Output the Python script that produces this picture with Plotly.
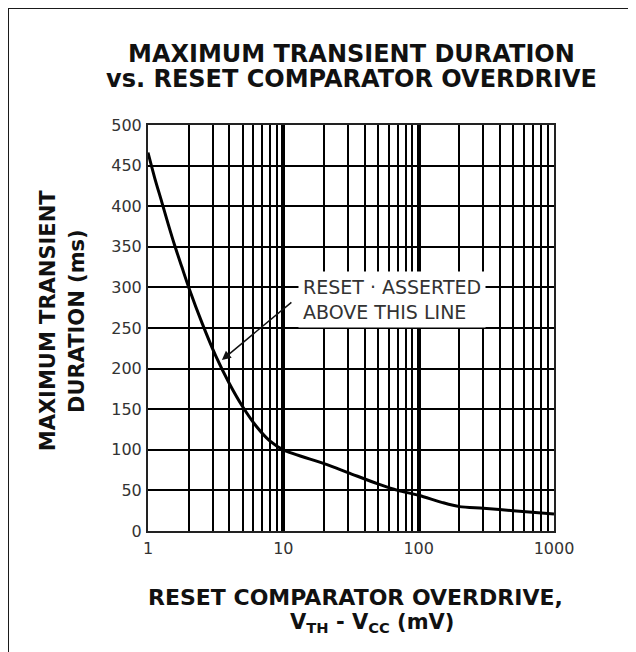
import plotly.graph_objects as go

# Data
overdrive_mv = [1, 1.12, 1.26, 1.41, 1.58, 1.78, 2, 2.51, 3.16, 3.98, 5.01,
                6.31, 7.94, 10, 20, 30, 50, 70, 100, 150, 200, 300, 500, 1000]
duration_ms = [466, 435, 406, 378, 351, 325, 300, 256, 216, 182, 153,
               129, 111, 100, 83, 72, 58, 50, 44, 35, 30, 28, 25, 21]

x_major_ticks = [1, 10, 100, 1000]
x_major_labels = ["1", "10", "100", "1000"]
x_minor_ticks = [2, 3, 4, 5, 6, 7, 8, 9,
                 20, 30, 40, 50, 60, 70, 80, 90,
                 200, 300, 400, 500, 600, 700, 800, 900]
y_ticks = [0, 50, 100, 150, 200, 250, 300, 350, 400, 450, 500]

FONT = "DejaVu Sans"

fig = go.Figure()
fig.add_trace(go.Scatter(
    x=overdrive_mv, y=duration_ms, mode="lines",
    line=dict(color="black", width=3, shape="spline", smoothing=0.8),
    hoverinfo="skip", showlegend=False,
))

fig.update_layout(
    width=628, height=644,
    margin=dict(l=140, r=82, t=117, b=121),
    paper_bgcolor="white", plot_bgcolor="white",
    showlegend=False,
    font=dict(family=FONT, color="#333333", size=16),
    xaxis=dict(
        type="log", range=[0, 3],
        tickvals=x_major_ticks, ticktext=x_major_labels,
        showgrid=True, gridcolor="black", gridwidth=3.5,
        showline=True, linecolor="#222222", linewidth=2, mirror=True,
        ticks="", ticklabelstandoff=2,
        tickfont=dict(family=FONT, size=16, color="#333333"),
        minor=dict(tickvals=x_minor_ticks, showgrid=True,
                   gridcolor="black", gridwidth=2, ticks=""),
        zeroline=False, fixedrange=True,
    ),
    yaxis=dict(
        range=[0, 500], tickvals=y_ticks,
        showgrid=True, gridcolor="black", gridwidth=2,
        showline=True, linecolor="#222222", linewidth=2, mirror=True,
        ticks="", ticklabelstandoff=1,
        tickfont=dict(family=FONT, size=16, color="#333333"),
        zeroline=False, fixedrange=True,
    ),
    shapes=[dict(type="rect", xref="paper", yref="paper",
                 x0=-0.3448, x1=1.35, y0=-0.4, y1=1.288,
                 line=dict(color="#1a1a1a", width=2), layer="below")],
)

annots = [
    # title
    dict(text="MAXIMUM TRANSIENT DURATION", x=0.5, y=1.174),
    dict(text="vs. RESET COMPARATOR OVERDRIVE", x=0.5, y=1.113),
    # x title
    dict(text="RESET COMPARATOR OVERDRIVE,", x=0.512, y=-0.165, size=22),
    dict(text="V<sub>TH</sub> - V<sub>CC</sub> (mV)", x=0.552, y=-0.227, size=21),
    # y title
    dict(text="MAXIMUM TRANSIENT", x=-0.246, y=0.517, size=21, angle=-90),
    dict(text="DURATION (ms)", x=-0.175, y=0.517, size=21, angle=-90),
]
for a in annots:
    fig.add_annotation(
        text="<b>" + a["text"] + "</b>", xref="paper", yref="paper",
        x=a["x"], y=a["y"], xanchor="center", yanchor="middle",
        showarrow=False, textangle=a.get("angle", 0),
        font=dict(family=FONT, size=a.get("size", 24), color="#111111"),
    )

# callout text box
fig.add_annotation(
    text="RESET · ASSERTED<br>ABOVE THIS LINE", xref="paper", yref="paper",
    x=0.601, y=0.571, xanchor="center", yanchor="middle", align="left",
    showarrow=False, bgcolor="white", borderpad=4,
    font=dict(family=FONT, size=19, color="#333333"),
)
# arrow
fig.add_annotation(
    text="", xref="paper", yref="paper", x=0.182, y=0.421,
    ax=71, ay=-59, showarrow=True, arrowhead=2, arrowsize=1.2,
    arrowwidth=1.5, arrowcolor="#111111",
)

fig.write_html("out.html")
